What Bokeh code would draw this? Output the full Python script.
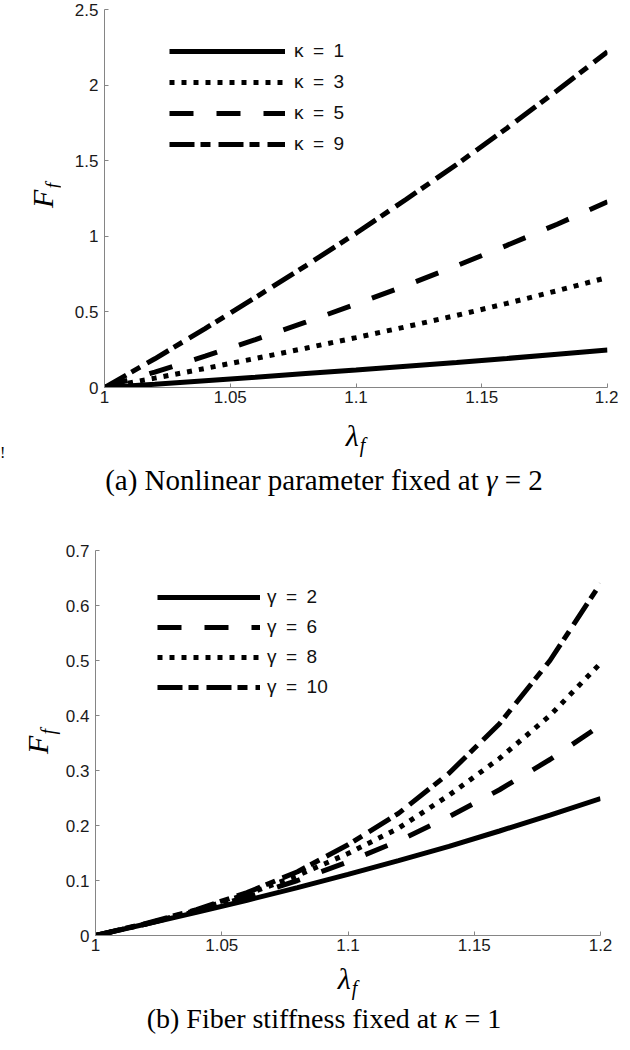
from bokeh.plotting import figure
from bokeh.models import (Range1d, FixedTicker, CustomJSTickFormatter, Legend,
                          LegendItem, Div)
from bokeh.layouts import column, row
from bokeh.embed import file_html
from bokeh.resources import INLINE

# ---------------- data ----------------
lam = [1.00, 1.02, 1.04, 1.06, 1.08, 1.10, 1.12, 1.14, 1.16, 1.18, 1.20]

# panel (a): gamma = 2, varying kappa
a_labels = ["κ\u2002=\u20021", "κ\u2002=\u20023", "κ\u2002=\u20025", "κ\u2002=\u20029"]
a_kappa1 = [0, 0.022, 0.045, 0.068, 0.092, 0.116, 0.141, 0.166, 0.192, 0.220, 0.248]
a_kappa3 = [0, 0.062, 0.126, 0.192, 0.260, 0.330, 0.402, 0.477, 0.556, 0.640, 0.728]
a_kappa5 = [0, 0.102, 0.207, 0.317, 0.432, 0.552, 0.675, 0.805, 0.940, 1.080, 1.228]
a_kappa9 = [0, 0.190, 0.390, 0.595, 0.805, 1.020, 1.245, 1.475, 1.715, 1.965, 2.220]

# panel (b): kappa = 1, varying gamma
b_labels = ["γ\u2002=\u20022", "γ\u2002=\u20026", "γ\u2002=\u20028", "γ\u2002=\u200210"]
b_gamma2 = [0, 0.021, 0.042, 0.064, 0.087, 0.111, 0.136, 0.162, 0.190, 0.219, 0.249]
b_gamma6 = [0, 0.021, 0.044, 0.070, 0.100, 0.134, 0.172, 0.216, 0.265, 0.320, 0.382]
b_gamma8 = [0, 0.021, 0.046, 0.075, 0.109, 0.149, 0.195, 0.255, 0.322, 0.400, 0.495]
b_gamma10 = [0, 0.022, 0.047, 0.078, 0.116, 0.165, 0.222, 0.295, 0.385, 0.500, 0.640]

x_ticks = [1, 1.05, 1.1, 1.15, 1.2]
a_yticks = [0, 0.5, 1, 1.5, 2, 2.5]
b_yticks = [0, 0.1, 0.2, 0.3, 0.4, 0.5, 0.6, 0.7]

caption_a = "(a) Nonlinear parameter fixed at <i>γ</i> = 2"
caption_b = "(b) Fiber stiffness fixed at <i>κ</i> = 1"
ylabel_html = "<i>F</i><i style='font-size:20px;position:relative;top:7px;left:1px'>f</i>"
xlabel_html = "<i>λ</i><i style='font-size:20px;position:relative;top:6px;left:1px'>f</i>"

# ---------------- styles ----------------
SOLID = "solid"
DOTTED = "5 7"
DASHED = "24 23"
DASHDOT = "25 6 10 8"
LW = 5
TICK_FONT = "Liberation Sans"

fmt = CustomJSTickFormatter(code="return String(Math.round(tick*1000)/1000);")


def make_fig(w, h, bl, br, bt, bb, ymax, yticks):
    p = figure(width=w, height=h, x_range=Range1d(1, 1.2), y_range=Range1d(0, ymax),
               output_backend="svg", toolbar_location=None,
               min_border_left=bl, min_border_right=br,
               min_border_top=bt, min_border_bottom=bb)
    p.title.visible = False
    p.outline_line_color = None
    p.grid.visible = False
    p.xaxis.ticker = FixedTicker(ticks=x_ticks)
    p.yaxis.ticker = FixedTicker(ticks=yticks)
    for ax in (p.xaxis[0], p.yaxis[0]):
        ax.formatter = fmt
        ax.axis_line_color = "#858585"
        ax.axis_line_width = 1
        ax.major_tick_line_color = "#858585"
        ax.major_tick_in = 4
        ax.major_tick_out = 0
        ax.minor_tick_line_color = None
        ax.major_label_text_font = TICK_FONT
        ax.major_label_text_font_size = "17px"
        ax.major_label_text_color = "#1a1a1a"
    p.xaxis.major_label_standoff = 3
    p.yaxis.major_label_standoff = 6
    return p


def span(x, y, html, size, rotate=False, anchor="center"):
    tr = "translate(-50%,-50%)" if anchor == "center" else "translate(0,-50%)"
    if rotate:
        tr += " rotate(-90deg)"
    return ("<span style=\"position:absolute;left:%dpx;top:%dpx;transform:%s;"
            "white-space:nowrap;line-height:1;font-family:'Liberation Serif',serif;"
            "font-size:%dpx;color:#000\">%s</span>" % (x, y, tr, size, html))


def box(w, h, items):
    inner = "".join(items)
    return Div(text="<div style='position:relative;width:%dpx;height:%dpx'>%s</div>" % (w, h, inner),
               width=w, height=h, margin=0)


def make_legend(rends, labels, x, y, gw, spacing, standoff):
    return Legend(items=[LegendItem(label=l, renderers=[r]) for l, r in zip(labels, rends)],
                  location=(x, y), glyph_width=gw, glyph_height=20, label_height=20,
                  spacing=spacing, padding=0, margin=0, label_standoff=standoff,
                  border_line_color=None, background_fill_alpha=0,
                  label_text_font=TICK_FONT, label_text_font_size="19px",
                  label_text_color="#111111")


YDIV_W = 60

# ---------------- panel (a) ----------------
pa = make_fig(558, 412, 44, 11, 9, 25, 2.5, a_yticks)
ra = []
for ys, dash in zip([a_kappa1, a_kappa3, a_kappa5, a_kappa9], [SOLID, DOTTED, DASHED, DASHDOT]):
    ra.append(pa.line(lam, ys, line_color="black", line_width=LW, line_dash=dash))
pa.add_layout(make_legend(ra, a_labels, 65, 232, 116, 9, 9))
ydiv_a = box(YDIV_W, 412, [span(43, 196, ylabel_html, 30, rotate=True)])
bdiv_a = box(618, 118, [span(355, 24, xlabel_html, 30),
                        span(0, 41, "!", 16, anchor="left"),
                        span(324, 68, caption_a, 29)])

# ---------------- panel (b) ----------------
pb = make_fig(558, 430, 35, 18, 20, 25, 0.7, b_yticks)
rb = []
for ys, dash in zip([b_gamma2, b_gamma6, b_gamma8, b_gamma10], [SOLID, DASHED, DOTTED, DASHDOT]):
    rb.append(pb.line(lam, ys, line_color="black", line_width=LW, line_dash=dash))
pb.add_layout(make_legend(rb, b_labels, 62, 237, 103, 8, 7))
ydiv_b = box(YDIV_W, 430, [span(38, 212, ylabel_html, 30, rotate=True)])
bdiv_b = box(618, 74, [span(347, 19, xlabel_html, 30),
                       span(324, 59, caption_b, 28)])

layout = column(row(ydiv_a, pa, spacing=0), bdiv_a,
                row(ydiv_b, pb, spacing=0), bdiv_b, spacing=0)
open("out.html", "w").write(file_html(layout, INLINE))
